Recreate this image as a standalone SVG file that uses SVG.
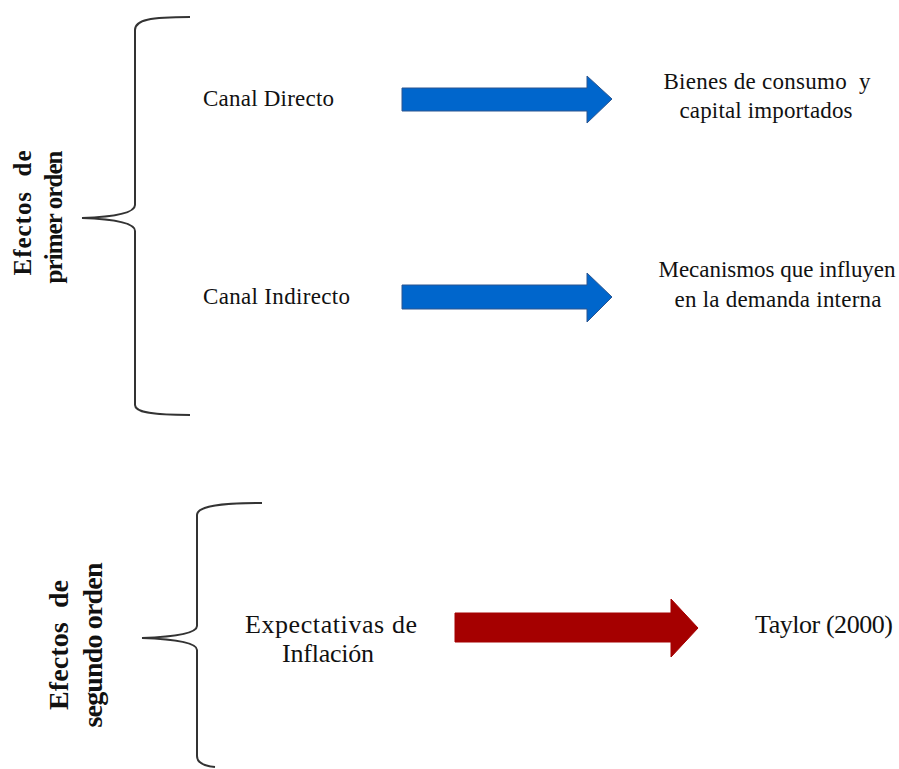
<svg xmlns="http://www.w3.org/2000/svg" width="899" height="769" viewBox="0 0 899 769">
<style>
text{font-family:'Liberation Serif','DejaVu Serif','Times New Roman',serif;fill:#111;}
.s{font-size:23px;}
.m{font-size:26px;}
.bs{font-size:25px;font-weight:bold;}
.bm{font-size:28px;font-weight:bold;}
.brace{fill:none;stroke:#333;stroke-width:2;}
.blue{fill:#0066CC;stroke:#2a5590;stroke-width:1;}
.red{fill:#A50000;stroke:#A50000;stroke-width:1;}
</style>
<rect width="899" height="769" fill="#fff"/>
<g id="primer-orden">
<path class="brace" d="M190,17 C150,17 135,20 135,30 L135,205 C135,214 110,217 82,218 C110,219 135,222 135,231 L135,405 C135,412 150,415 190,415"/>
<text class="bs" transform="translate(31,213) rotate(-90)" text-anchor="middle" textLength="125" xml:space="preserve">Efectos  de</text>
<text class="bs" transform="translate(62,217) rotate(-90)" text-anchor="middle" textLength="133">primer orden</text>
</g>
<g id="canal-directo"><text class="s" x="203" y="106" textLength="131">Canal Directo</text></g>
<g id="canal-indirecto"><text class="s" x="203" y="304" textLength="147">Canal Indirecto</text></g>
<g id="bienes">
<text class="s" x="767" y="89" text-anchor="middle" textLength="207" xml:space="preserve">Bienes de consumo  y</text>
<text class="s" x="766" y="118" text-anchor="middle" textLength="173">capital importados</text>
</g>
<g id="mecanismos">
<text class="s" x="777" y="277" text-anchor="middle" textLength="237">Mecanismos que influyen</text>
<text class="s" x="778" y="307" text-anchor="middle" textLength="207">en la demanda interna</text>
</g>
<g id="segundo-orden">
<path class="brace" d="M262,503 C220,503 197,506 197,515 L197,626 C197,634 170,637 142,638 C170,639 197,642 197,650 L197,756 C197,763 205,766 215,767"/>
<text class="bm" transform="translate(68,645) rotate(-90)" text-anchor="middle" textLength="130" xml:space="preserve">Efectos  de</text>
<text class="bm" transform="translate(102,645) rotate(-90)" text-anchor="middle" textLength="165">segundo orden</text>
</g>
<g id="expectativas">
<text class="m" x="331" y="633" text-anchor="middle" textLength="172">Expectativas de</text>
<text class="m" x="328" y="662" text-anchor="middle" textLength="92">Inflación</text>
</g>
<g id="taylor"><text class="m" x="755" y="633" textLength="138">Taylor (2000)</text></g>
<g id="connectors">
<polygon class="blue" points="402,88 587,88 587,76 612,99 587,123 587,111 402,111"/>
<polygon class="blue" points="402,285 587,285 587,273 612,297 587,322 587,309 402,309"/>
<polygon class="red" points="455,613 671,613 671,599 698,628 671,657 671,642 455,642"/>
</g>
</svg>
